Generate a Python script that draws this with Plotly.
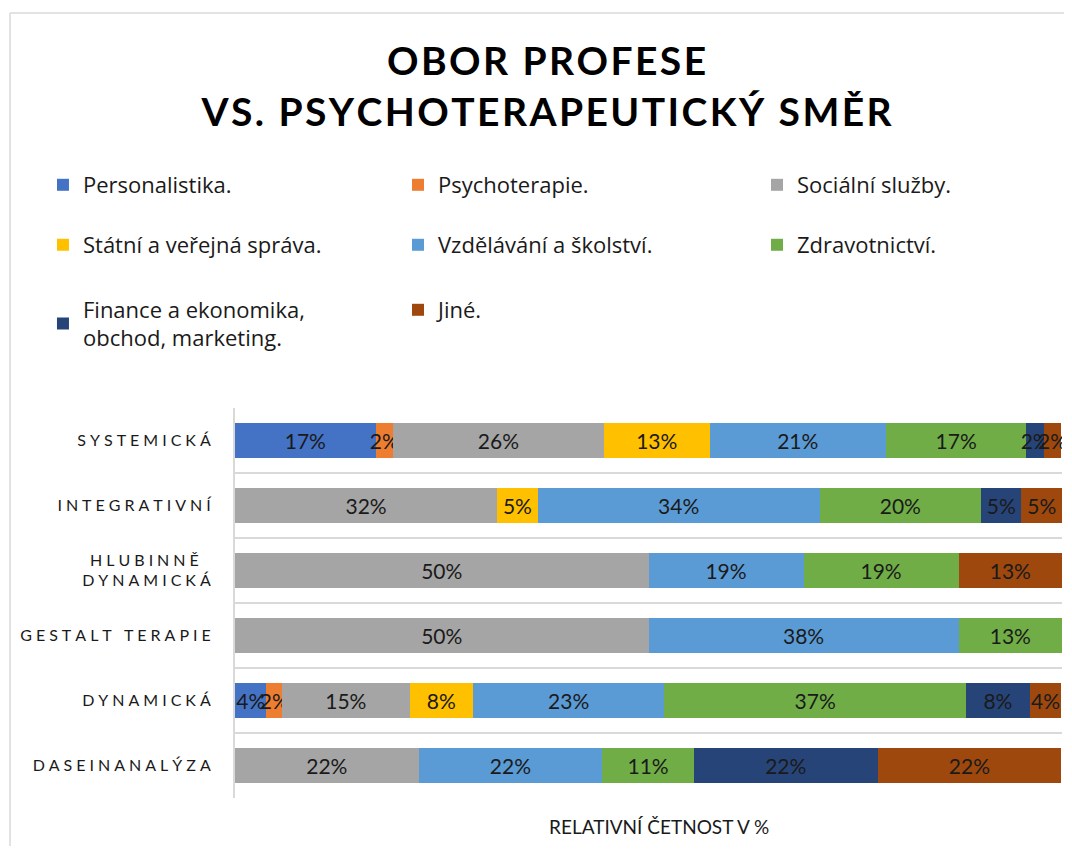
import plotly.graph_objects as go

categories = ["Systemická", "Integrativní", "Hlubinně dynamická", "Gestalt terapie", "Dynamická", "Daseinanalýza"]
tick_labels = ["SYSTEMICKÁ", "INTEGRATIVNÍ", "HLUBINNĚ<br>DYNAMICKÁ", "GESTALT TERAPIE", "DYNAMICKÁ", "DASEINANALÝZA"]

series_names = ["Personalistika.", "Psychoterapie.", "Sociální služby.",
                "Státní a veřejná správa.", "Vzdělávání a školství.", "Zdravotnictví.",
                "Finance a ekonomika,<br>obchod, marketing.", "Jiné."]
colors = ["#4472C4", "#ED7D31", "#A5A5A5", "#FFC000", "#5B9BD5", "#70AD47", "#264478", "#9E480E"]

personalistika = [17.0, None, None, None, 3.8, None]
psychoterapie = [2.1, None, None, None, 1.9, None]
socialni = [25.5, 31.7, 50.0, 50.0, 15.4, 22.2]
statni = [12.8, 4.9, None, None, 7.7, None]
vzdelavani = [21.3, 34.1, 18.75, 37.5, 23.1, 22.2]
zdravotnictvi = [17.0, 19.5, 18.75, 12.5, 36.5, 11.1]
finance = [2.1, 4.9, None, None, 7.7, 22.2]
jine = [2.1, 4.9, 12.5, None, 3.8, 22.2]

series_values = [personalistika, psychoterapie, socialni, statni, vzdelavani, zdravotnictvi, finance, jine]

FONT = "Lato, 'Open Sans', sans-serif"
LEGFONT = "'Open Sans', Lato, sans-serif"
TS = "\u2009"


def spaced(s, sep=TS):
    parts = s.split("<br>")
    return "<br>".join(sep.join(list(p)) for p in parts)


def pct(v):
    return None if v is None else f"{int(v + 0.5)}%"


legend_ids = ["legend", "legend2", "legend3", "legend4", "legend5", "legend6", "legend7", "legend8"]

fig = go.Figure()
for name, vals, col, lg in zip(series_names, series_values, colors, legend_ids):
    fig.add_trace(go.Bar(
        y=categories, x=vals, name=name, orientation="h",
        marker=dict(color=col, line=dict(width=0)),
        width=0.55,
        text=[pct(v) for v in vals],
        textposition="inside", insidetextanchor="middle",
        constraintext="none", textangle=0,
        textfont=dict(family=FONT, size=21, color="#1a1a1a"),
        legend=lg,
        hovertemplate="%{y}: %{x:.1f}%<extra>" + name + "</extra>",
    ))

leg_common = dict(orientation="v", xanchor="left", yanchor="middle",
                  font=dict(family=LEGFONT, size=22, color="#1a1a1a"),
                  bgcolor="rgba(0,0,0,0)")

col_x = [-0.2322, 0.1971, 0.6312]
row_y = [1.5718, 1.418, 1.2513]
legend_layout = {}
for i, lg in enumerate(legend_ids):
    r, c = divmod(i, 3)
    legend_layout[lg] = dict(x=col_x[c], y=row_y[r], **leg_common)
# two-line entry: anchor so its first line aligns with the row
legend_layout["legend7"]["y"] = 1.2154

ticktext = []
for t in tick_labels:
    s = spaced(t, TS + TS)
    if "<br>" in t:
        a, b = s.split("<br>")
        s = a + TS * 6 + "<br>" + b
    ticktext.append(s)

fig.update_layout(
    width=1056, height=838,
    margin=dict(l=227, r=2, t=400, b=48, autoexpand=False),
    paper_bgcolor="white", plot_bgcolor="white",
    barmode="stack",
    title=dict(text=spaced("OBOR PROFESE", "\u200a") + "<br>" + spaced("VS. PSYCHOTERAPEUTICKÝ SMĚR", "\u200a"),
               x=0.51, xanchor="center", y=0.920, yanchor="middle",
               font=dict(family=FONT, size=39, color="#000000", weight="bold")),
    xaxis=dict(range=[0, 100], showticklabels=False, showgrid=False, zeroline=False,
               showline=False, fixedrange=True, automargin=False),
    yaxis=dict(categoryorder="array", categoryarray=categories, autorange="reversed",
               tickmode="array", tickvals=categories, automargin=False,
               ticktext=ticktext,
               tickson="boundaries", showgrid=True, gridcolor="#d9d9d9", gridwidth=2,
               showline=True, linecolor="#d9d9d9", linewidth=2,
               ticks="", ticklabelstandoff=19,
               tickfont=dict(family=FONT, size=16, color="#1a1a1a")),
    showlegend=True,
    **legend_layout,
)

# x-axis title (placed below the plot area)
fig.add_annotation(text="RELATIVNÍ ČETNOST V %", xref="paper", yref="paper",
                   x=0.5127, y=-0.0718, xanchor="center", yanchor="middle", showarrow=False,
                   font=dict(family=FONT, size=19, color="#1a1a1a"))

# chart frame (left and top edges)
fig.add_shape(type="line", xref="paper", yref="paper", x0=-0.272, x1=-0.272, y0=-0.2, y1=2.013,
              line=dict(color="#d9d9d9", width=1.5))
fig.add_shape(type="line", xref="paper", yref="paper", x0=-0.272, x1=1.1, y0=2.013, y1=2.013,
              line=dict(color="#d9d9d9", width=1.5))

fig.write_html("out.html")
